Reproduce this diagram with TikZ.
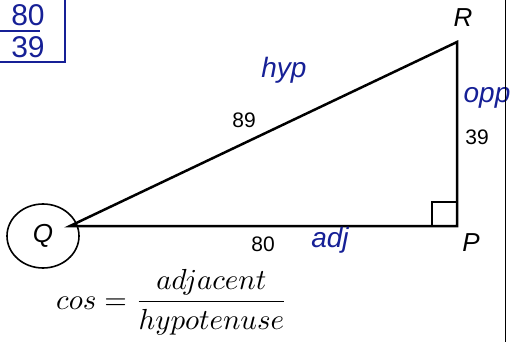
\documentclass[tikz,border=0pt]{standalone}
\usepackage{amsmath}
\usepackage{fontspec}
\setmainfont{Liberation Sans}
\usepackage{xcolor}
\usepackage{tikz}
\usetikzlibrary{shapes.geometric}
\definecolor{caneta}{RGB}{22,32,150}
\tikzset{
  lado/.style={line width=2.5pt, line join=miter},
  vertice/.style={font=\itshape\fontsize{26}{26}\selectfont, inner sep=0pt},
  medida/.style={font=\fontsize{21}{21}\selectfont, inner sep=0pt},
  nota/.style={text=caneta, font=\itshape\fontsize{28}{28}\selectfont, inner sep=0pt},
}

\begin{document}
\begin{tikzpicture}[x=1pt, y=-1pt]
  \useasboundingbox (0,0) rectangle (511,342);
  % triangle
  \coordinate (Q) at (70,226);
  \coordinate (P) at (457,226);
  \coordinate (R) at (457,42);
  \draw[lado] (Q) -- (P) -- (R) -- cycle;
  \draw[line width=2.2pt] (432,226) |- (457,202);

  \node[vertice, draw, ellipse, line width=1.6pt, minimum width=72pt, minimum height=64pt] (qc) at (43,236) {Q};
  \node[vertice] (rl) at (463,18) {R};
  \node[vertice] (pl) at (471,243) {P};

  \node[medida] (m89) at (244,120) {89};
  \node[medida] (m39) at (477,137) {39};
  \node[medida] (m80) at (263,244) {80};

  \node[nota] (hyp) at (284,70) {hyp};
  \node[nota] (opp) at (487,98) {opp};
  \node[nota] (adj) at (330,240) {adj};

  % boxed answer
  \draw[caneta, line width=2pt] (-5,62) -- (65,62) -- (65,-5);
  \draw[caneta, line width=2pt] (-5,31) -- (40,31);
  \node[nota, font=\fontsize{30}{30}\selectfont] (num) at (28,15) {80};
  \node[nota, font=\fontsize{30}{30}\selectfont] (den) at (28,47) {39};

  % page edge
  \draw[line width=1pt] (505,0) -- (505,342);

  % formula
  \node[scale=2.9, inner sep=0pt] (cosf) at (172,302) {$cos = \dfrac{adjacent}{hypotenuse}$};
\end{tikzpicture}
\end{document}
